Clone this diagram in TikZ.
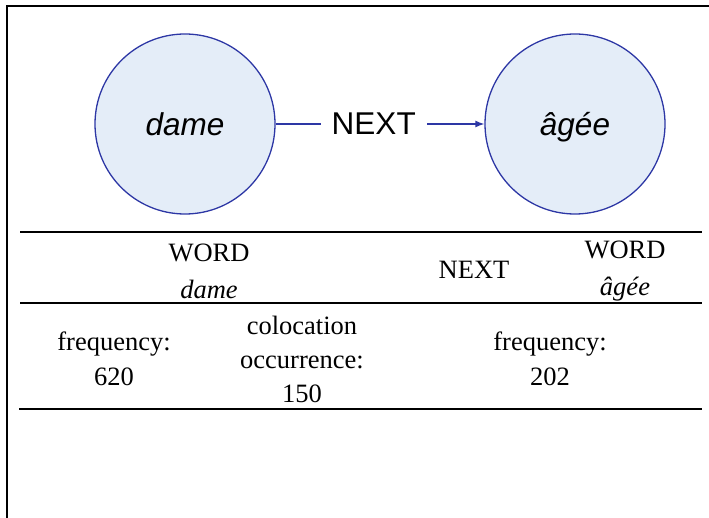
\documentclass[tikz,border=0pt]{standalone}
\usepackage{fontspec}
\setmainfont{Liberation Serif}
\newfontfamily\graphfont{Liberation Sans}
\usepackage{tikz}
\usetikzlibrary{arrows.meta, positioning}
\definecolor{nodeblue}{RGB}{45,55,165}
\definecolor{nodefill}{RGB}{228,237,248}

\begin{document}
\begin{tikzpicture}[
    x=1pt, y=-1pt,
    word/.style={circle, draw=nodeblue, fill=nodefill, line width=1.3pt, minimum size=180pt, inner sep=0pt, text height=27pt, text depth=4pt, font=\graphfont\fontsize{31.5}{36}\selectfont\itshape},
    arrow/.style={-{Latex[length=9pt, width=7pt]}, draw=nodeblue, line width=1.3pt},
    rel/.style={fill=white, inner xsep=11pt, font=\graphfont\fontsize{31.5}{36}\selectfont},
    cell/.style={align=center, inner sep=0pt, font=\fontsize{26.5}{35}\selectfont},
    rule/.style={line width=1.6pt}
]
    \useasboundingbox (0,0) rectangle (709,518);

    % Frame
    \draw [line width=2.2pt] (7,518) -- (7,6) -- (709,6);

    % Graph
    \node [word] (dame) at (185,124) {dame};
    \node [word] (agee) at (575,124) {âgée};
    \draw [arrow] (dame) -- node [rel, pos=0.47] (next) {NEXT} (agee);

    % Table
    \draw [rule] (20,232) -- (702,232);
    \draw [rule] (20,303) -- (702,303);
    \draw [rule] (19,409) -- (702,409);

    \node [cell, font=\fontsize{26.5}{37}\selectfont] (w1) at (209,271) {WORD\\\textit{dame}};
    \node [cell] (rel2) at (474,270) {NEXT};
    \node [cell, font=\fontsize{26.5}{37}\selectfont] (w2) at (625,271) {WORD\\\textit{âgée}};

    \node [cell] (f1) at (114,359) {frequency:\\620};
    \node [cell, font=\fontsize{26.5}{34}\selectfont] (co) at (302,359) {colocation\\occurrence:\\150};
    \node [cell] (f2) at (550,359) {frequency:\\202};
\end{tikzpicture}
\end{document}
